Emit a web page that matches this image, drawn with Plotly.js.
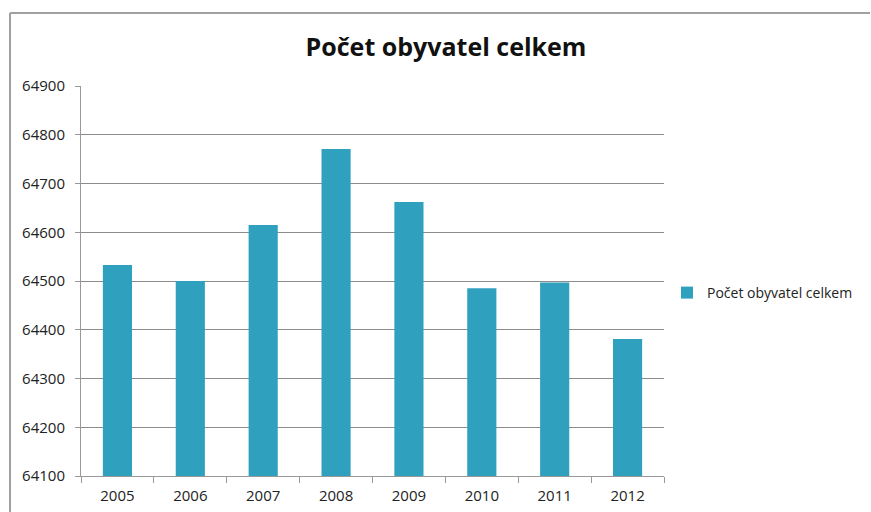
<!DOCTYPE html>
<html>
<head>
<meta charset="utf-8">
<script src="https://cdn.plot.ly/plotly-3.0.1.min.js"></script>
<style>
html,body{margin:0;padding:0;background:#fff;}
#chart{width:871px;height:512px;}
</style>
</head>
<body>
<div id="chart"></div>
<script>
const years = ["2005","2006","2007","2008","2009","2010","2011","2012"];
const population = [64533, 64500, 64615, 64771, 64662, 64485, 64497, 64381];
const seriesName = "Počet obyvatel celkem";
const chartTitle = "Počet obyvatel celkem";
const yTicks = [64100,64200,64300,64400,64500,64600,64700,64800,64900];

const W = 871, H = 512;
const margin = {l: 81, r: 207, t: 86, b: 36, autoexpand: false};
const pw = W - margin.l - margin.r, ph = H - margin.t - margin.b;
const px = x => (x - margin.l) / pw;
const py = y => (H - margin.b - y) / ph;

const font = "Open Sans, Noto Sans, sans-serif";

const trace = {
  type: "bar",
  x: years,
  y: population,
  name: seriesName,
  marker: {color: "#30a0bf", line: {width: 0}},
  showlegend: true
};

const layout = {
  width: W, height: H,
  margin: margin,
  paper_bgcolor: "#fff",
  plot_bgcolor: "#fff",
  bargap: 0.6,
  font: {family: font, size: 15, color: "#222"},
  title: {
    text: chartTitle,
    font: {family: font, size: 25, color: "#111", weight: "bold"},
    x: px(446), xanchor: "center", xref: "paper",
    y: 1 - 47 / H, yanchor: "middle", yref: "container"
  },
  xaxis: {
    type: "category",
    tickson: "boundaries",
    ticks: "outside", ticklen: 6, tickcolor: "#999",
    ticklabelstandoff: 6,
    showline: true, linecolor: "#999", linewidth: 1,
    showgrid: false,
    tickfont: {family: font, size: 15, color: "#222"},
    fixedrange: true
  },
  yaxis: {
    range: [64100, 64900],
    tickvals: yTicks,
    ticktext: yTicks.map(String),
    ticks: "outside", ticklen: 5, tickcolor: "#999",
    ticklabelstandoff: 7,
    showline: true, linecolor: "#999", linewidth: 1,
    showgrid: true, gridcolor: "#8c8c8c", gridwidth: 1,
    zeroline: false,
    tickfont: {family: font, size: 15, color: "#222"},
    fixedrange: true
  },
  legend: {
    x: px(667), y: py(293), xanchor: "left", yanchor: "middle",
    font: {family: font, size: 14, color: "#222"},
    bgcolor: "rgba(0,0,0,0)", itemwidth: 30
  },
  shapes: [
    {type: "line", xref: "paper", yref: "paper", x0: px(10), x1: px(870), y0: py(13), y1: py(13), line: {color: "#a0a0a0", width: 2}},
    {type: "line", xref: "paper", yref: "paper", x0: px(10), x1: px(10), y0: py(13), y1: py(512), line: {color: "#a0a0a0", width: 2}}
  ]
};

Plotly.newPlot("chart", [trace], layout, {displayModeBar: false, staticPlot: true});
</script>
</body>
</html>
